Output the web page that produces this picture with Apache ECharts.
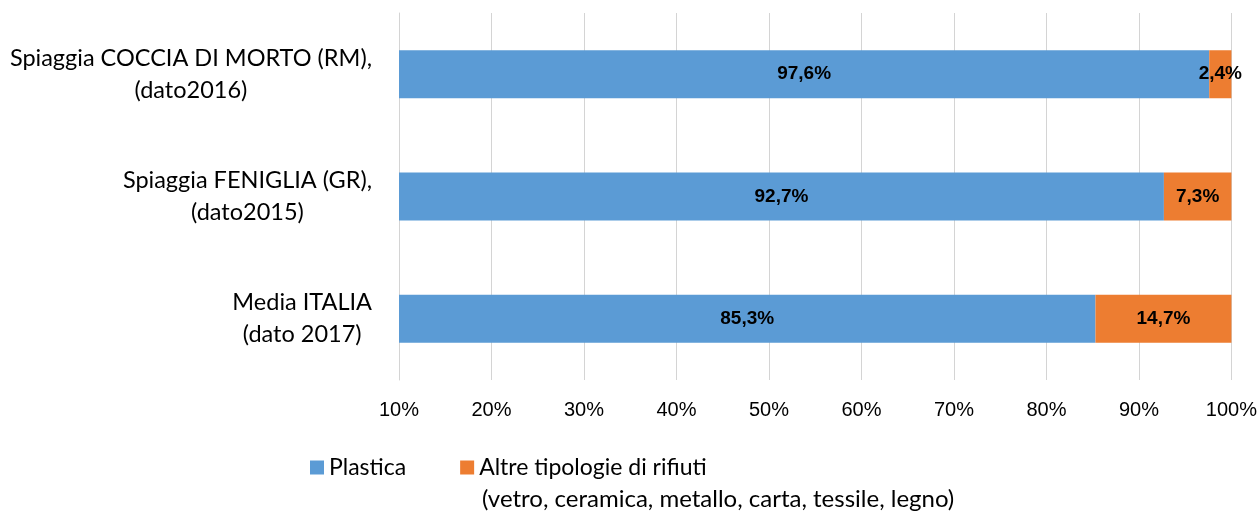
<!DOCTYPE html>
<html lang="it">
<head>
    <meta charset="UTF-8" />
    <title>Rifiuti spiaggia</title>
    <script src="https://cdn.jsdelivr.net/npm/echarts@6/dist/echarts.min.js"></script>
    <style>
        html, body { margin: 0; padding: 0; background: #fff; }
    </style>
</head>
<body>
    <div id="chart" style="width: 1260px; height: 513px"></div>
    <script>
        // categorie (dal basso verso l'alto come in ECharts)
        var categories = [
            ["Media ITALIA", "(dato 2017)"],
            ["Spiaggia FENIGLIA (GR),", "(dato2015)"],
            ["Spiaggia COCCIA DI MORTO (RM),", "(dato2016)"]
        ];
        var plastica = [85.3, 92.7, 97.6];
        var altre = [14.7, 7.3, 2.4];
        var seriesNames = ["Plastica", "Altre tipologie di rifiuti"];
        var legendSecondLine = "(vetro, ceramica, metallo, carta, tessile, legno)";

        var catFont = "Lato";
        var numFont = "'Liberation Sans', Arial, sans-serif";

        function pct(v) {
            return v.toFixed(1).replace(".", ",") + "%";
        }

        var mCharts = echarts.init(document.getElementById("chart"));
        var barLabel = {
            show: true,
            position: "inside",
            color: "#000",
            fontFamily: numFont,
            fontWeight: "bold",
            fontSize: 19,
            formatter: function (p) { return pct(p.value); }
        };

        var option = {
            animation: false,
            color: ["#5B9BD5", "#ED7D31"],
            grid: { left: 399, right: 28, top: 13, bottom: 133 },
            legend: {
                left: 310,
                top: 456,
                padding: 0,
                itemWidth: 14,
                itemHeight: 14,
                itemGap: 54,
                icon: "rect",
                textStyle: { fontFamily: catFont, fontSize: 23, color: "#000" },
                data: seriesNames
            },
            graphic: [{
                type: "text",
                left: 482,
                top: 487,
                style: { text: legendSecondLine, font: "24px " + catFont, fill: "#000" }
            }],
            xAxis: {
                type: "value",
                min: 10,
                max: 100,
                interval: 10,
                axisLine: { show: false },
                axisTick: { show: false },
                splitLine: { lineStyle: { color: "#d4d4d4", width: 1 } },
                axisLabel: {
                    margin: 20,
                    color: "#000",
                    fontFamily: numFont,
                    fontSize: 20,
                    formatter: "{value}%"
                }
            },
            yAxis: {
                type: "category",
                data: categories.map(function (c) { return c.join("\n"); }),
                axisLine: { show: true, lineStyle: { color: "#d4d4d4" } },
                axisTick: { show: false },
                axisLabel: {
                    margin: 27,
                    align: "right",
                    formatter: function (v) {
                        return v.split("\n").map(function (s) { return "{c|" + s + "}"; }).join("\n");
                    },
                    rich: {
                        c: { align: "center", fontFamily: catFont, fontSize: 23.5, lineHeight: 32, color: "#000" }
                    }
                }
            },
            series: [
                {
                    name: seriesNames[0],
                    type: "bar",
                    stack: "tot",
                    barWidth: 48,
                    data: plastica,
                    label: barLabel
                },
                {
                    name: seriesNames[1],
                    type: "bar",
                    stack: "tot",
                    barWidth: 48,
                    data: altre,
                    label: barLabel
                }
            ]
        };
        mCharts.setOption(option);
    </script>
</body>
</html>
